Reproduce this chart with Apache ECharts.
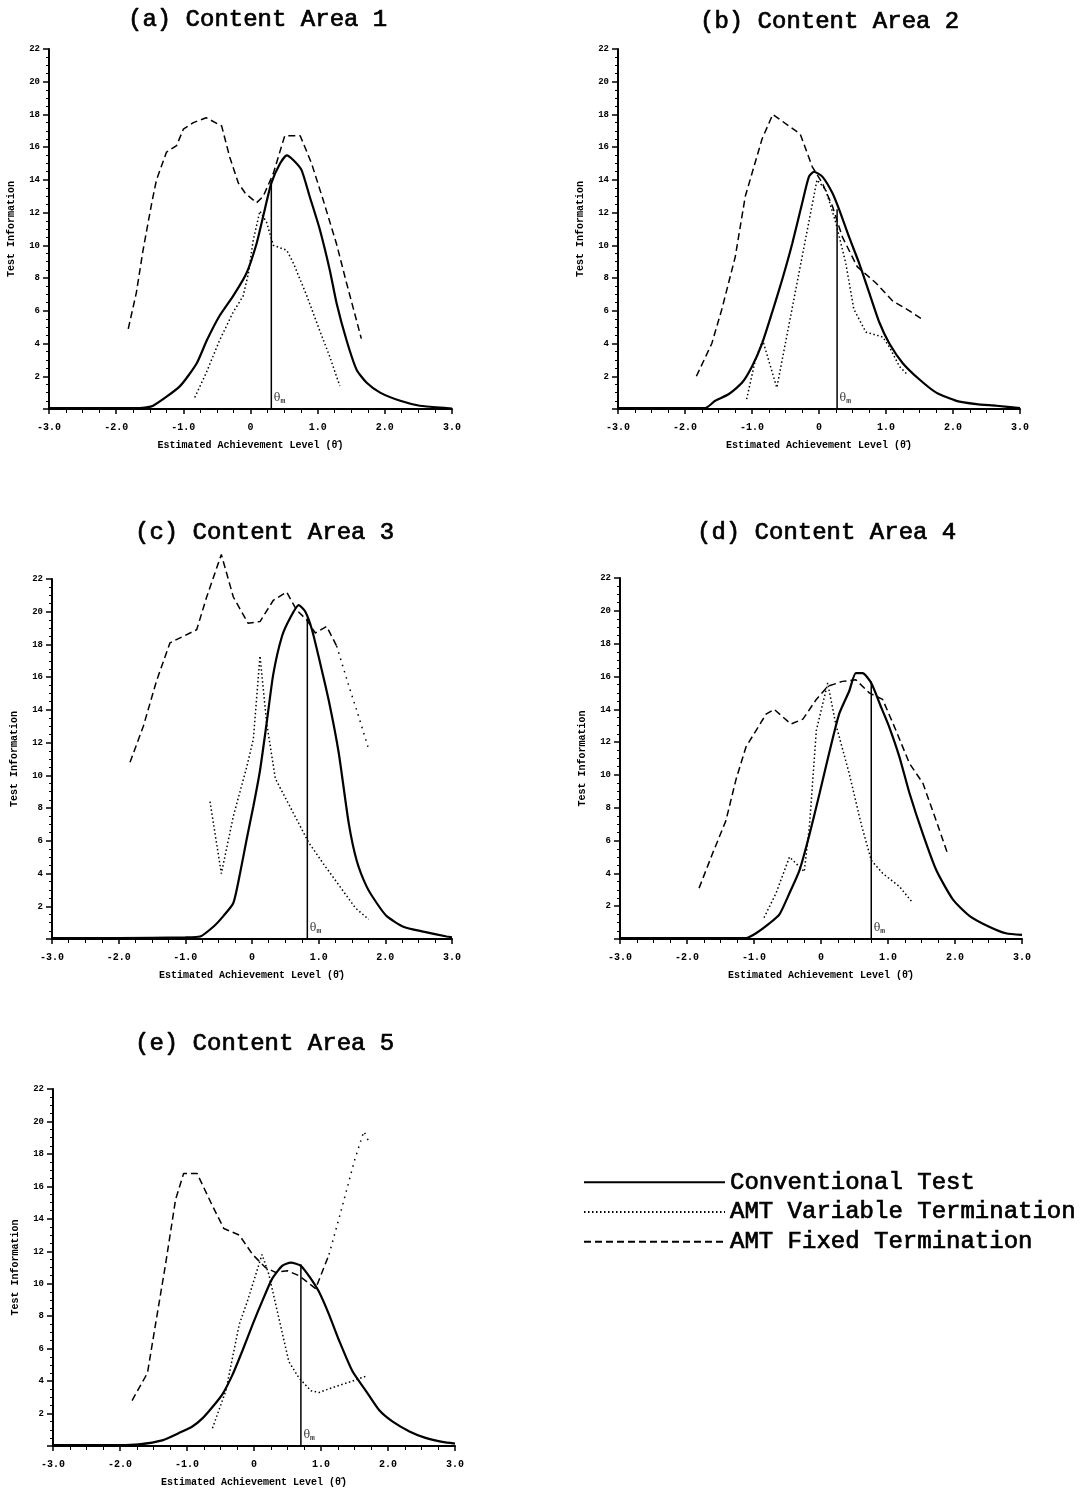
<!DOCTYPE html>
<html>
<head>
<meta charset="utf-8">
<script src="https://cdn.jsdelivr.net/npm/echarts@6/dist/echarts.min.js"></script>
<style>
html,body{margin:0;padding:0;background:#fff;}
#chart{width:1089px;height:1488px;}
</style>
</head>
<body>
<div id="chart"></div>
<script>
// ---------- DATA (theta, information) ----------
const panelTitles = ['(a) Content Area 1','(b) Content Area 2','(c) Content Area 3','(d) Content Area 4','(e) Content Area 5'];
const seriesNames = ['Conventional Test','AMT Variable Termination','AMT Fixed Termination'];
const xTickValues = [-3,-2,-1,0,1,2,3];
const yTickValues = [2,4,6,8,10,12,14,16,18,20,22];

// Panel (a)
const convA = [[-3,0.05],[-2.5,0.05],[-2,0.05],[-1.65,0.05],[-1.45,0.2],[-1.05,1.4],[-0.8,2.8],[-0.65,4.2],[-0.46,5.7],[-0.26,6.9],[-0.06,8.3],[0.09,10.1],[0.19,11.8],[0.31,13.8],[0.44,15.0],[0.54,15.5],[0.64,15.2],[0.76,14.6],[0.88,13.0],[1.03,11.0],[1.18,8.5],[1.28,6.5],[1.43,4.2],[1.58,2.4],[1.73,1.6],[1.93,1.0],[2.23,0.5],[2.52,0.2],[2.92,0.05],[3,0.02]];
const fixedA = [[-1.82,4.9],[-1.70,7.1],[-1.60,9.7],[-1.47,12.6],[-1.40,14.0],[-1.25,15.7],[-1.10,16.1],[-1.00,17.1],[-0.85,17.5],[-0.66,17.8],[-0.43,17.3],[-0.31,15.4],[-0.18,13.8],[-0.08,13.2],[0.09,12.6],[0.19,13.0],[0.34,14.4],[0.51,16.7],[0.74,16.7],[0.91,15.0],[1.08,12.8],[1.28,10.1],[1.43,7.7],[1.56,5.7],[1.65,4.3]];
const varA = [[-0.83,0.7],[-0.66,2.2],[-0.46,4.2],[-0.26,5.9],[-0.11,6.9],[-0.03,8.3],[0.04,10.3],[0.14,12.1],[0.24,11.4],[0.34,10.0],[0.54,9.7],[0.64,8.9],[0.84,6.9],[1.03,4.8],[1.18,3.2],[1.33,1.4]];

// Panel (b)
const convB = [[-3,0.05],[-2.5,0.05],[-2,0.05],[-1.70,0.05],[-1.55,0.5],[-1.35,0.9],[-1.15,1.6],[-1.0,2.6],[-0.85,4.0],[-0.70,5.9],[-0.55,7.9],[-0.40,10.1],[-0.25,12.6],[-0.15,14.2],[-0.075,14.5],[0.05,14.2],[0.20,13.2],[0.30,12.2],[0.45,10.5],[0.60,8.9],[0.75,7.1],[0.90,5.3],[1.05,4.0],[1.25,2.8],[1.50,1.8],[1.75,1.0],[2.05,0.5],[2.35,0.3],[2.65,0.2],[3.0,0.05]];
const fixedB = [[-1.83,2.0],[-1.60,4.0],[-1.45,6.1],[-1.25,9.3],[-1.10,13.0],[-0.85,16.5],[-0.69,18.0],[-0.45,17.3],[-0.28,16.8],[-0.10,14.8],[0.05,13.8],[0.20,12.4],[0.35,10.5],[0.57,8.7],[0.85,7.7],[1.10,6.6],[1.35,6.0],[1.57,5.4]];
const varB = [[-1.08,0.6],[-0.95,3.0],[-0.84,4.2],[-0.63,1.3],[-0.03,14.0],[0.10,13.4],[0.25,11.4],[0.40,8.9],[0.52,6.1],[0.70,4.7],[0.95,4.4],[1.05,3.8],[1.20,2.6],[1.32,2.1]];

// Panel (c)
const convC = [[-3,0.05],[-2,0.05],[-1,0.1],[-0.78,0.15],[-0.58,0.75],[-0.43,1.4],[-0.28,2.2],[-0.18,4.0],[-0.08,6.1],[0.02,8.1],[0.12,10.3],[0.22,13.2],[0.32,16.2],[0.45,18.5],[0.57,19.6],[0.70,20.4],[0.80,20.0],[0.90,18.9],[1.02,16.9],[1.15,14.6],[1.30,11.4],[1.45,7.1],[1.57,4.8],[1.72,3.2],[1.87,2.2],[2.02,1.4],[2.27,0.75],[2.57,0.45],[2.92,0.15],[3.0,0.1]];
const fixedC = [[-1.83,10.8],[-1.63,13.0],[-1.43,15.8],[-1.23,18.1],[-0.83,18.9],[-0.68,20.9],[-0.46,23.5],[-0.28,20.9],[-0.06,19.3],[0.12,19.4],[0.32,20.7],[0.52,21.2],[0.67,20.1],[0.82,19.5],[0.95,18.7],[1.12,19.1],[1.27,17.9]];
const varC = [[-0.63,8.4],[-0.46,4.0],[-0.28,7.5],[-0.08,10.5],[0.02,12.2],[0.12,17.3],[0.22,13.2],[0.35,9.8],[0.62,7.7],[0.85,5.9],[1.07,4.6],[1.32,3.2],[1.55,1.9],[1.75,1.2]];
const varTailC = [[1.27,17.9],[1.45,15.5],[1.60,13.6],[1.75,11.6]];

// Panel (d)
const convD = [[-3,0.05],[-2,0.05],[-1.12,0.05],[-0.97,0.35],[-0.77,0.95],[-0.62,1.5],[-0.47,2.8],[-0.32,4.2],[-0.17,6.4],[-0.02,8.9],[0.12,11.3],[0.27,13.7],[0.42,15.1],[0.52,16.2],[0.62,16.2],[0.75,15.6],[0.90,14.1],[1.02,12.9],[1.17,11.1],[1.32,8.9],[1.52,6.4],[1.72,4.2],[1.97,2.4],[2.22,1.4],[2.51,0.75],[2.76,0.35],[3.0,0.25]];
const fixedD = [[-1.82,3.1],[-1.62,5.2],[-1.42,7.2],[-1.27,9.7],[-1.12,11.7],[-0.97,12.7],[-0.82,13.7],[-0.70,14.0],[-0.45,13.1],[-0.27,13.4],[-0.07,14.6],[0.10,15.4],[0.32,15.7],[0.52,15.8],[0.72,15.0],[0.92,14.6],[1.12,12.7],[1.32,10.7],[1.52,9.5],[1.72,7.2],[1.89,5.2]];
const varD = [[-0.85,1.3],[-0.67,2.8],[-0.47,5.0],[-0.25,4.1],[-0.17,7.0],[-0.07,12.7],[0.10,15.6],[0.22,13.1],[0.42,10.1],[0.60,7.0],[0.75,4.8],[0.92,4.0],[1.17,3.2],[1.37,2.2]];

// Panel (e)
const convE = [[-3,0.05],[-2,0.05],[-1.72,0.1],[-1.37,0.35],[-1.12,0.8],[-0.92,1.2],[-0.77,1.7],[-0.62,2.4],[-0.47,3.2],[-0.32,4.4],[-0.17,5.9],[-0.02,7.5],[0.12,8.9],[0.27,10.3],[0.42,11.1],[0.55,11.3],[0.70,11.1],[0.85,10.3],[0.97,9.5],[1.12,8.1],[1.27,6.5],[1.47,4.6],[1.67,3.4],[1.87,2.2],[2.07,1.5],[2.32,0.9],[2.56,0.5],[2.81,0.25],[3.0,0.15]];
const fixedE = [[-1.82,2.8],[-1.59,4.5],[-1.47,7.5],[-1.32,11.2],[-1.17,15.2],[-1.05,16.8],[-0.85,16.8],[-0.62,14.8],[-0.45,13.4],[-0.22,13.0],[-0.02,11.8],[0.17,11.0],[0.32,10.7],[0.50,10.8],[0.67,10.5],[0.92,9.7],[1.12,11.8]];
const varE = [[-0.62,1.1],[-0.42,3.4],[-0.22,7.5],[-0.10,8.9],[0.12,11.8],[0.22,10.6],[0.37,7.9],[0.52,5.2],[0.67,4.2],[0.85,3.4],[0.97,3.3],[1.17,3.6],[1.47,4.0],[1.67,4.3]];
const varTailE = [[1.12,11.8],[1.30,14.5],[1.50,17.6],[1.64,19.4],[1.72,18.7]];

// theta_m reference lines
const thetaM = [0.31, 0.27, 0.83, 0.75, 0.70];
const thetaMTop = [14.0, 12.2, 19.6, 15.7, 11.2];

const convAll = [convA, convB, convC, convD, convE];
const fixedAll = [fixedA, fixedB, fixedC, fixedD, fixedE];
const varAll = [varA, varB, varC, varD, varE];
const varTailAll = [null, null, varTailC, null, varTailE];

// ---------- LAYOUT ----------
const FONT = 'Liberation Mono';
const grids = [
  {left:49, top:49, width:403, height:360},
  {left:618, top:49, width:402, height:360},
  {left:52, top:579, width:400, height:360},
  {left:620, top:578, width:402, height:361},
  {left:53, top:1089, width:402, height:360}
];
const titlePos = [[123,3],[695,5],[130,516],[692,516],[130,1027]];
const heavyText = {fontFamily:FONT, fontSize:24, fontWeight:'normal', color:'#000', textBorderColor:'#000', textBorderWidth:0.7};

const option = {
  backgroundColor:'#fff',
  animation:false,
  title: panelTitles.map((t,i)=>({
    text:t, left:titlePos[i][0], top:titlePos[i][1],
    textStyle:heavyText
  })),
  legend:{
    data:seriesNames, orient:'vertical', left:578, top:1165,
    itemWidth:141, itemHeight:8, itemGap:5,
    itemStyle:{opacity:0},
    textStyle:heavyText,
    selectedMode:false
  },
  grid: grids,
  xAxis: grids.map((g,i)=>({
    type:'value', gridIndex:i, min:-3, max:3, interval:1,
    name:'Estimated Achievement Level (θ̂)', nameLocation:'middle', nameGap:31,
    nameTextStyle:{fontFamily:FONT, fontSize:10, fontWeight:'bold', color:'#000'},
    axisLine:{onZero:false, lineStyle:{color:'#000', width:2}},
    axisTick:{show:true, length:5, lineStyle:{color:'#000', width:1.5}},
    minorTick:{show:true, splitNumber:4, length:4, lineStyle:{color:'#000', width:1}},
    splitLine:{show:false},
    axisLabel:{fontFamily:FONT, fontSize:10, fontWeight:'bold', color:'#000', margin:13,
      formatter:v=> (xTickValues.indexOf(v)>=0 ? (v===0?'0':v.toFixed(1)) : '')}
  })),
  yAxis: grids.map((g,i)=>({
    type:'value', gridIndex:i, min:0, max:22, interval:2,
    name:'Test Information', nameLocation:'middle', nameGap:33, nameRotate:90,
    nameTextStyle:{fontFamily:FONT, fontSize:10, fontWeight:'bold', color:'#000'},
    axisLine:{show:true, onZero:false, lineStyle:{color:'#000', width:2}},
    axisTick:{show:true, length:6, lineStyle:{color:'#000', width:1.5}},
    minorTick:{show:true, splitNumber:4, length:3, lineStyle:{color:'#000', width:1}},
    splitLine:{show:false},
    axisLabel:{fontFamily:FONT, fontSize:9, fontWeight:'bold', color:'#000', margin:9,
      formatter:v=> (yTickValues.indexOf(v)>=0 ? String(v) : '')}
  })),
  series: []
};

for (let i=0;i<5;i++){
  option.series.push({
    name:seriesNames[0], type:'line', xAxisIndex:i, yAxisIndex:i, data:convAll[i],
    symbol:'none', smooth:0.2, clip:false,
    lineStyle:{color:'#000', width:2.2, type:'solid'}, itemStyle:{color:'#000'}
  });
  option.series.push({
    name:seriesNames[1], type:'line', xAxisIndex:i, yAxisIndex:i, data:varAll[i],
    symbol:'none', clip:false,
    lineStyle:{color:'#000', width:1.5, type:[1.5,2.5]}, itemStyle:{color:'#000'}
  });
  if (varTailAll[i]) option.series.push({
    name:seriesNames[1], type:'line', xAxisIndex:i, yAxisIndex:i, data:varTailAll[i],
    symbol:'none', clip:false,
    lineStyle:{color:'#000', width:1.5, type:[1.5,5]}, itemStyle:{color:'#000'}
  });
  option.series.push({
    name:seriesNames[2], type:'line', xAxisIndex:i, yAxisIndex:i, data:fixedAll[i],
    symbol:'none', clip:false,
    lineStyle:{color:'#000', width:1.5, type:[7,4]}, itemStyle:{color:'#000'}
  });
  option.series.push({
    type:'line', xAxisIndex:i, yAxisIndex:i,
    data:[[thetaM[i],0],[thetaM[i],thetaMTop[i]]],
    symbol:'none', clip:false, silent:true,
    lineStyle:{color:'#000', width:1.5}
  });
  option.series.push({
    type:'scatter', xAxisIndex:i, yAxisIndex:i, data:[[thetaM[i],0]],
    symbolSize:1, itemStyle:{color:'rgba(0,0,0,0)'}, silent:true,
    label:{show:true, position:'right', distance:2, offset:[0,-11],
      formatter:'{a|θ}{b|m}',
      rich:{a:{fontFamily:'DejaVu Serif', fontSize:11, color:'#000'},
            b:{fontFamily:FONT, fontSize:8, fontWeight:'bold', color:'#000', verticalAlign:'bottom', padding:[6,0,0,0]}}}
  });
}

const chart = echarts.init(document.getElementById('chart'), null, {renderer:'canvas'});
chart.setOption(option);
</script>
</body>
</html>
